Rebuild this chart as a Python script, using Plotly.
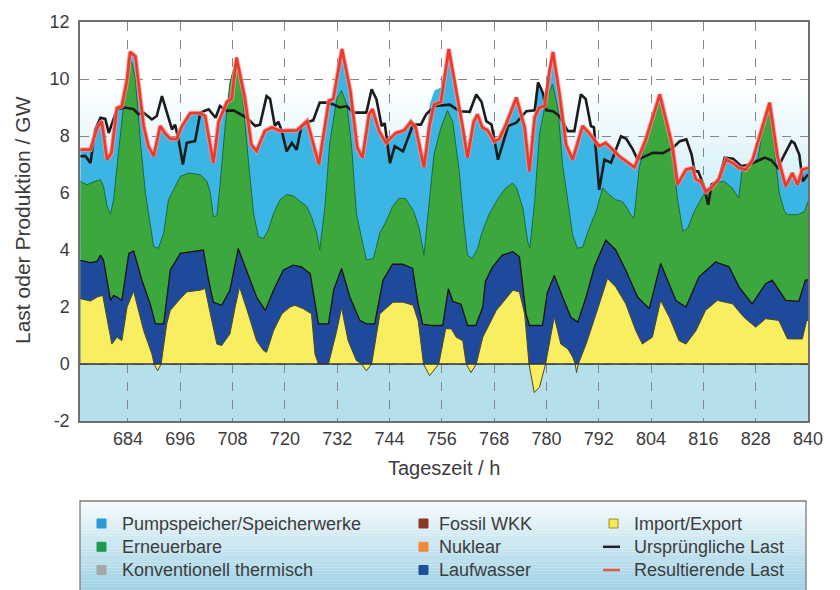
import plotly.graph_objects as go

# ---------------- data (hours, GW) ----------------
# Resultierende Last (red line, also top of Pumpspeicher area)
red_h = [673.1, 675.4, 676.9, 678.0, 679.2, 680.2, 681.5, 682.6, 683.8, 684.5, 685.7, 686.8, 687.6, 688.7,
         689.9, 691.4, 692.5, 693.7, 695.2, 696.4, 698.3, 700.6, 701.7, 703.6, 704.8, 706.7, 707.8, 708.9,
         710.8, 712.3, 713.5, 715.4, 717.0, 718.9, 720.9, 722.8, 725.1, 727.8, 730.1, 731.1, 733.1, 735.0,
         736.6, 737.8, 739.3, 740.1, 741.6, 743.2, 745.4, 747.4, 748.9, 750.0, 751.9, 753.1, 754.2, 755.8,
         757.6, 759.6, 760.7, 761.9, 763.3, 764.2, 765.3, 766.5, 768.0, 769.2, 770.7, 773.1, 775.0, 776.1,
         777.3, 778.4, 779.6, 780.7, 781.5, 783.0, 784.5, 786.0, 788.3, 789.8, 792.1, 793.6, 796.7, 800.2,
         802.8, 806.0, 808.9, 810.1, 812.0, 813.5, 814.3, 815.4, 816.6, 818.1, 819.6, 821.2, 822.7, 824.2,
         825.7, 827.3, 829.6, 831.2, 833.0, 834.9, 836.4, 837.6, 838.7, 840.0]
red_v = [7.52, 7.52, 8.28, 8.52, 7.17, 7.4, 8.98, 9.05, 9.99, 10.95, 10.8, 9.3, 8.35, 7.64,
         7.29, 8.35, 8.1, 7.9, 7.9, 8.35, 8.8, 8.8, 8.7, 7.05, 8.5, 9.2, 9.3, 10.75,
         9.35, 7.7, 7.47, 8.18, 8.3, 8.18, 8.2, 8.2, 8.53, 7.0, 9.24, 9.3, 11.05, 9.6,
         7.59, 7.24, 8.76, 8.94, 8.18, 7.76, 8.1, 8.2, 8.5, 8.3, 6.9, 8.3, 9.1, 9.2,
         11.05, 9.35, 8.4, 7.24, 8.5, 8.76, 8.3, 8.2, 7.8, 7.9, 8.4, 9.35, 8.3, 6.76,
         8.65, 9.0, 9.05, 10.3, 10.95, 9.47, 7.7, 7.17, 8.35, 8.1, 7.64, 7.76, 7.29, 6.9,
         7.88, 9.46, 7.64, 6.3, 6.82, 6.88, 6.47, 6.4, 6.05, 6.23, 6.5, 7.17, 7.06, 6.88,
         6.82, 7.17, 8.35, 9.17, 7.29, 6.23, 6.7, 6.29, 6.82, 6.88]

# Ursprüngliche Last (black line)
black_h = [673.1, 674.2, 675.4, 676.5, 677.7, 678.8, 679.6, 680.7, 681.5, 683.4, 685.3, 686.4, 687.6, 689.5,
           690.6, 691.8, 692.9, 694.1, 694.8, 695.6, 696.6, 697.5, 699.4, 700.6, 702.5, 704.1, 705.1, 706.7,
           708.2, 709.7, 711.3, 713.2, 714.3, 715.8, 716.6, 717.7, 718.5, 719.3, 720.4, 721.6, 722.7, 723.8,
           725.4, 726.5, 728.0, 729.6, 731.1, 732.6, 734.2, 735.7, 737.6, 738.7, 739.9, 741.0, 742.2, 742.9,
           744.1, 745.2, 747.1, 747.9, 749.4, 751.2, 752.4, 754.4, 757.8, 760.1, 762.4, 763.9, 765.1, 766.2,
           767.4, 768.9, 769.7, 771.2, 773.1, 775.4, 777.3, 778.1, 779.2, 780.0, 781.5, 783.0, 784.9, 786.4,
           787.9, 789.0, 790.2, 790.9, 792.1, 793.3, 794.8, 795.9, 797.1, 798.3, 799.8, 800.9, 802.1, 804.4,
           806.7, 809.1, 810.6, 812.1, 813.3, 814.0, 814.8, 816.0, 817.1, 817.9, 819.4, 820.9, 822.8, 824.7,
           826.6, 828.5, 830.1, 831.6, 833.1, 834.6, 836.2, 836.9, 838.0, 838.8, 840.0]
black_v = [7.29, 7.3, 7.05, 8.23, 8.64, 8.6, 8.11, 8.58, 8.94, 9.0, 8.94, 8.76, 8.82, 8.58,
           8.7, 9.4, 8.82, 8.23, 8.4, 7.88, 7.0, 7.76, 7.82, 8.82, 8.94, 8.64, 9.05, 8.88,
           8.9, 8.76, 8.64, 8.35, 8.4, 9.4, 9.3, 8.35, 8.5, 8.17, 7.46, 7.76, 7.52, 8.35,
           8.5, 8.55, 9.17, 9.17, 9.11, 9.0, 9.05, 8.82, 8.82, 8.82, 9.64, 9.29, 8.35, 8.45,
           7.05, 7.64, 7.46, 7.8, 8.4, 8.4, 8.76, 9.05, 9.1, 8.87, 8.85, 9.46, 9.2, 8.52,
           8.4, 7.17, 7.6, 8.35, 8.47, 8.87, 8.9, 9.88, 9.5, 8.9, 8.87, 8.7, 8.17, 8.17,
           9.46, 9.3, 8.35, 8.3, 6.11, 7.17, 7.06, 7.5, 7.99, 7.9, 7.53, 7.17, 7.25, 7.41,
           7.4, 7.6, 7.82, 7.88, 7.35, 6.76, 6.76, 6.3, 5.59, 6.3, 6.41, 7.24, 7.2, 6.94,
           7.0, 7.12, 7.24, 7.15, 6.88, 7.35, 7.82, 7.75, 7.35, 6.41, 6.65]

# Upper edge of Erneuerbare (stacked)
ern_h = [673.1, 674.6, 676.5, 677.7, 678.4, 679.2, 680.0, 680.7, 681.9, 683.0, 684.2, 684.9, 685.7, 686.8,
         688.0, 689.1, 689.9, 691.0, 692.2, 693.3, 694.5, 696.0, 697.9, 700.6, 702.1, 702.9, 703.6, 704.4,
         705.1, 706.3, 707.4, 708.6, 709.3, 710.5, 711.6, 712.8, 713.9, 715.1, 716.2, 717.4, 718.9, 720.4,
         721.9, 723.5, 725.0, 726.1, 727.3, 728.0, 729.2, 730.3, 731.9, 733.0, 734.2, 735.3, 736.4, 737.6,
         738.7, 740.3, 741.8, 743.2, 744.7, 746.2, 747.7, 749.6, 750.8, 751.9, 753.1, 754.2, 755.8, 757.3,
         758.5, 760.0, 761.1, 761.9, 763.0, 764.2, 765.3, 766.8, 769.2, 770.7, 772.2, 773.1, 774.6, 775.7,
         776.2, 777.3, 778.4, 779.9, 781.4, 782.6, 783.7, 784.9, 786.0, 787.1, 788.3, 789.8, 791.4, 792.9,
         794.4, 795.9, 797.4, 798.5, 799.3, 800.1, 801.3, 802.8, 804.3, 806.0, 807.3, 808.7, 810.1, 811.3,
         812.4, 813.9, 815.8, 816.9, 818.8, 820.7, 822.6, 824.1, 824.9, 826.6, 828.5, 829.6, 831.0, 832.2,
         833.4, 834.6, 835.4, 837.7, 839.2, 840.0]
ern_v = [6.41, 6.29, 6.41, 6.47, 6.23, 5.53, 5.25, 5.76, 7.52, 9.05, 10.46, 10.6, 10.0, 7.88,
         6.0, 4.82, 4.12, 4.06, 4.59, 5.76, 6.11, 6.58, 6.7, 6.64, 6.41, 6.0, 5.17, 5.2,
         6.23, 8.35, 9.88, 10.55, 10.5, 9.05, 7.17, 5.29, 4.47, 4.4, 4.7, 5.29, 5.76, 5.94,
         5.9, 5.7, 5.53, 5.17, 4.59, 4.0, 5.53, 7.76, 9.29, 9.6, 9.1, 7.64, 5.29, 4.4,
         3.65, 3.7, 4.6, 5.0, 5.53, 5.82, 5.8, 5.35, 4.76, 3.82, 5.59, 7.35, 8.29, 8.9,
         8.5, 6.76, 4.88, 3.82, 3.7, 4.06, 4.65, 5.24, 5.88, 6.18, 6.35, 6.2, 5.47, 4.29,
         4.06, 5.7, 8.06, 9.24, 9.82, 9.0, 7.0, 5.7, 4.53, 4.06, 4.1, 4.76, 5.35, 6.18,
         5.94, 5.76, 5.7, 5.47, 5.24, 5.12, 6.9, 7.8, 8.5, 9.4, 8.7, 7.5, 5.76, 4.65,
         4.76, 5.35, 5.88, 6.1, 6.35, 6.41, 6.18, 5.82, 6.8, 6.95, 7.2, 8.2, 9.0, 7.6,
         6.0, 5.35, 5.24, 5.24, 5.35, 5.7]

# Upper edge of Laufwasser (stacked)
lauf_h = [673.1, 675.4, 676.9, 677.7, 678.4, 680.0, 680.7, 681.5, 682.6, 684.2, 685.3, 687.2, 689.1, 690.3,
          692.2, 693.7, 696.0, 698.3, 701.3, 702.5, 703.6, 705.5, 707.4, 709.3, 711.2, 713.5, 715.5, 717.4,
          719.6, 721.9, 723.8, 725.8, 727.7, 730.0, 731.2, 733.0, 734.9, 737.2, 738.7, 740.6, 742.5, 744.7,
          747.0, 749.3, 750.5, 751.6, 753.9, 756.2, 757.5, 758.5, 760.4, 761.9, 763.8, 765.4, 766.0, 767.6,
          769.9, 772.3, 773.8, 775.3, 776.1, 779.1, 780.2, 781.8, 783.7, 785.6, 787.2, 789.1, 791.0, 793.6,
          795.9, 798.2, 800.9, 803.6, 806.2, 807.8, 809.7, 812.0, 815.0, 818.8, 821.9, 824.2, 827.2, 830.3,
          831.8, 834.9, 837.9, 839.4, 840.0]
lauf_v = [3.64, 3.56, 3.6, 3.82, 3.64, 2.23, 2.4, 2.35, 2.23, 3.88, 3.97, 2.94, 2.11, 1.41,
          1.41, 3.29, 3.88, 3.94, 4.0, 2.94, 2.17, 2.06, 2.59, 4.05, 3.29, 2.35, 1.88, 2.59,
          3.29, 3.47, 3.41, 3.17, 1.41, 1.41, 2.6, 3.35, 2.35, 1.53, 1.41, 1.41, 2.94, 3.5,
          3.5, 3.35, 2.17, 1.4, 1.35, 1.35, 2.64, 2.2, 2.1, 1.35, 1.35, 2.0, 2.9, 3.4,
          3.82, 3.94, 3.76, 1.76, 1.35, 1.35, 2.5, 3.11, 2.35, 1.64, 1.47, 2.35, 3.41, 4.35,
          4.0, 3.29, 2.35, 1.94, 3.53, 2.94, 2.23, 2.0, 3.06, 3.58, 3.41, 2.7, 2.11, 2.82,
          2.94, 2.23, 2.2, 2.94, 2.95]

# Import/Export (bottom layer, negative = export)
imp_h = [673.1, 675.4, 677.0, 678.2, 680.3, 681.5, 682.6, 683.8, 685.3, 687.6, 689.5, 690.0, 690.8, 691.6,
         692.9, 693.7, 696.0, 697.5, 700.6, 701.7, 702.9, 704.4, 705.5, 707.4, 708.6, 709.6, 711.6, 713.5,
         715.1, 715.8, 717.4, 719.3, 721.2, 722.3, 724.2, 726.1, 726.9, 727.7, 730.0, 731.9, 733.0, 734.5,
         736.4, 737.6, 738.7, 739.9, 741.8, 744.8, 747.1, 749.4, 750.6, 751.8, 753.2, 755.3, 756.9, 758.2,
         759.3, 760.8, 761.6, 762.7, 763.9, 765.4, 768.5, 772.3, 773.8, 775.0, 776.0, 777.2, 778.4, 779.8,
         781.8, 783.3, 784.9, 786.0, 786.6, 786.9, 787.3, 789.1, 791.4, 794.0, 795.9, 798.2, 800.5, 802.0,
         804.3, 806.2, 808.2, 810.4, 812.0, 814.3, 816.5, 819.2, 822.7, 825.3, 828.0, 830.3, 833.3, 835.3,
         838.7, 839.7, 840.0]
imp_v = [2.29, 2.21, 2.35, 2.41, 0.7, 0.94, 0.82, 2.0, 2.55, 1.17, 0.35, 0.0, -0.24, 0.0,
         1.41, 1.88, 2.29, 2.53, 2.59, 2.65, 1.76, 0.7, 0.65, 1.06, 2.0, 2.7, 1.76, 0.82,
         0.47, 0.41, 1.17, 1.76, 2.0, 2.06, 1.94, 1.76, 0.35, 0.0, 0.0, 1.17, 1.97, 0.82,
         0.12, 0.0, -0.24, 0.0, 1.76, 2.17, 2.17, 2.06, 1.5, 0.0, -0.41, 0.0, 1.24, 1.23,
         0.94, 0.82, 0.0, -0.3, 0.0, 0.94, 1.88, 2.59, 2.53, 1.76, 0.0, -1.0, -0.82, 0.0,
         1.65, 0.7, 0.53, 0.25, 0.0, -0.3, 0.0, 0.7, 1.76, 3.0, 2.7, 2.11, 1.17, 0.7,
         0.94, 2.23, 1.64, 0.82, 0.7, 1.17, 1.88, 2.23, 2.11, 1.64, 1.29, 1.59, 1.53, 0.88,
         0.88, 1.53, 1.53]

# Pumpspeicher peaks that rise above the resulting-load line
pump_bump1_h = [751.9, 753.2, 754.3, 755.8, 756.9, 757.6, 758.5]
pump_bump1_v = [6.9, 9.1, 9.6, 9.7, 10.6, 11.0, 10.0]
pump_bump2_h = [777.0, 777.8, 778.5, 779.6, 780.5]
pump_bump2_v = [8.4, 9.9, 9.6, 9.5, 10.1]

x_ticks = [684, 696, 708, 720, 732, 744, 756, 768, 780, 792, 804, 816, 828, 840]
y_ticks = [-2, 0, 2, 4, 6, 8, 10, 12]

legend_items = [
    # (label, kind, colour, column, row)
    ("Pumpspeicher/Speicherwerke", "box", "#2a9ad6", 0, 0),
    ("Erneuerbare", "box", "#1f9a4c", 0, 1),
    ("Konventionell thermisch", "box", "#a6a6a6", 0, 2),
    ("Fossil WKK", "box", "#8a3b22", 1, 0),
    ("Nuklear", "box", "#f28a3c", 1, 1),
    ("Laufwasser", "box", "#1d4f98", 1, 2),
    ("Import/Export", "box", "#f6e94e", 2, 0),
    ("Ursprüngliche Last", "line", "#222222", 2, 1),
    ("Resultierende Last", "line", "#e8564a", 2, 2),
]

# ---------------- styling ----------------
C_PUMP = "#3bb5e3"
C_ERN = "#3ca73d"
C_LAUF = "#1f4a9c"
C_IMP = "#f9ed60"
FONT = "Liberation Sans, Arial, sans-serif"
TXT = "#3c3c3c"

W, H = 840, 590
PL, PR, PT, PB = 80, 808, 22, 421  # plot area in pixels


def px(x):
    return (x - PL) / (PR - PL)


def py(y):
    return (PB - y) / (PB - PT)


fig = go.Figure()

# stacked areas, drawn top layer first, each filled down to zero
fig.add_trace(go.Scatter(x=red_h, y=red_v, mode="lines", fill="tozeroy",
                         fillcolor=C_PUMP, line=dict(width=0), hoverinfo="skip", showlegend=False))
for bh, bv in ((pump_bump1_h, pump_bump1_v), (pump_bump2_h, pump_bump2_v)):
    fig.add_trace(go.Scatter(x=bh, y=bv, mode="lines", fill="tozeroy",
                             fillcolor=C_PUMP, line=dict(width=0, color=C_PUMP),
                             hoverinfo="skip", showlegend=False))
fig.add_trace(go.Scatter(x=ern_h, y=ern_v, mode="lines", fill="tozeroy",
                         fillcolor=C_ERN, line=dict(width=1, color="#1d6b3c"),
                         hoverinfo="skip", showlegend=False))
fig.add_trace(go.Scatter(x=lauf_h, y=lauf_v, mode="lines", fill="tozeroy",
                         fillcolor=C_LAUF, line=dict(width=1.3, color="#141414"),
                         hoverinfo="skip", showlegend=False))
fig.add_trace(go.Scatter(x=imp_h, y=imp_v, mode="lines", fill="tozeroy",
                         fillcolor=C_IMP, line=dict(width=1, color="#4a4a2a"),
                         hoverinfo="skip", showlegend=False))
# load lines
fig.add_trace(go.Scatter(x=black_h, y=black_v, mode="lines",
                         line=dict(width=2.6, color="#1b1b1b"), hoverinfo="skip", showlegend=False))
fig.add_trace(go.Scatter(x=red_h, y=red_v, mode="lines",
                         line=dict(width=4.8, color="rgba(245,150,150,0.75)"), hoverinfo="skip", showlegend=False))
fig.add_trace(go.Scatter(x=red_h, y=red_v, mode="lines",
                         line=dict(width=2.7, color="#ec3a2a"), hoverinfo="skip", showlegend=False))

shapes = []


def mix(c1, c2, t):
    return "rgb(%d,%d,%d)" % tuple(round(a + (b - a) * t) for a, b in zip(c1, c2))


# plot background: pale cyan gradient fading to white near the top
top_c = (255, 255, 255)
low_c = (196, 233, 245)
n = 40
y0, y1 = 5.0, 9.8
for i in range(n):
    a = y0 + (y1 - y0) * i / n
    b = y0 + (y1 - y0) * (i + 1) / n
    t = (i + 0.5) / n
    shapes.append(dict(type="rect", xref="x", yref="y", x0=673, x1=840, y0=a, y1=b,
                       fillcolor=mix(low_c, top_c, t), line=dict(width=0), layer="below"))
shapes.append(dict(type="rect", xref="x", yref="y", x0=673, x1=840, y0=0, y1=y0,
                   fillcolor=mix(low_c, top_c, 0), line=dict(width=0), layer="below"))
# below-zero band
shapes.append(dict(type="rect", xref="x", yref="y", x0=673, x1=840, y0=-2, y1=0,
                   fillcolor="#b5dfea", line=dict(width=0), layer="below"))
# zero line
shapes.append(dict(type="line", xref="x", yref="y", x0=673, x1=840, y0=0, y1=0,
                   line=dict(color="#333333", width=1.6), layer="above"))

# legend box with gradient
LB_L, LB_R, LB_T, LB_B = 80, 806, 501, 596
nb = 30
for i in range(nb):
    a = LB_T + (LB_B - LB_T) * i / nb
    b = LB_T + (LB_B - LB_T) * (i + 1) / nb
    t = (i + 0.5) / nb
    shapes.append(dict(type="rect", xref="paper", yref="paper", x0=px(LB_L), x1=px(LB_R),
                       y0=py(b), y1=py(a), fillcolor=mix((246, 251, 253), (150, 205, 226), t),
                       line=dict(width=0), layer="above"))
shapes.append(dict(type="rect", xref="paper", yref="paper", x0=px(LB_L), x1=px(LB_R),
                   y0=py(LB_B), y1=py(LB_T), line=dict(color="#7d7d7d", width=1.3),
                   fillcolor="rgba(0,0,0,0)", layer="above"))

annotations = []
col_sq = [97, 419, 609]
col_tx = [120, 437, 632]
row_y = [523.5, 546.8, 570]
for label, kind, col, c, r in legend_items:
    yc = row_y[r]
    if kind == "box":
        border = "#9a9030" if label == "Import/Export" else col
        shapes.append(dict(type="rect", xref="paper", yref="paper",
                           x0=px(col_sq[c]), x1=px(col_sq[c] + 9), y0=py(yc + 4.5), y1=py(yc - 4.5),
                           fillcolor=col, line=dict(color=border, width=1), layer="above"))
    else:
        shapes.append(dict(type="line", xref="paper", yref="paper",
                           x0=px(col_sq[c] - 6), x1=px(col_sq[c] + 11), y0=py(yc), y1=py(yc),
                           line=dict(color=col, width=2.5), layer="above"))
    annotations.append(dict(text=label, xref="paper", yref="paper", x=px(col_tx[c]), y=py(yc),
                            xanchor="left", yanchor="middle", showarrow=False,
                            font=dict(family=FONT, size=18, color=TXT)))

# axis titles
annotations.append(dict(text="Last oder Produktion / GW", xref="paper", yref="paper",
                        x=px(22), y=py(220), textangle=-90, showarrow=False,
                        xanchor="center", yanchor="middle",
                        font=dict(family=FONT, size=21, color=TXT)))
annotations.append(dict(text="Tageszeit / h", xref="paper", yref="paper",
                        x=px(444), y=py(468), showarrow=False,
                        xanchor="center", yanchor="middle",
                        font=dict(family=FONT, size=20, color=TXT)))

fig.update_layout(
    width=W, height=H,
    margin=dict(l=PL, r=W - PR, t=PT, b=H - PB, pad=0),
    paper_bgcolor="white", plot_bgcolor="white",
    shapes=shapes, annotations=annotations, showlegend=False,
    font=dict(family=FONT, color=TXT),
)
fig.update_xaxes(range=[673, 840], tickvals=x_ticks, ticktext=[str(v) for v in x_ticks],
                 showgrid=True, gridcolor="#858585", griddash="dash", gridwidth=1,
                 showline=True, mirror=True, linecolor="#6f6f6f", linewidth=1.5,
                 ticks="", ticklabelstandoff=1, zeroline=False,
                 tickfont=dict(family=FONT, size=18, color=TXT))
fig.update_yaxes(range=[-2, 12], tickvals=y_ticks, ticktext=[str(v) for v in y_ticks],
                 showgrid=True, gridcolor="#858585", griddash="dash", gridwidth=1,
                 showline=True, mirror=True, linecolor="#6f6f6f", linewidth=1.5,
                 ticks="", ticklabelstandoff=5, zeroline=False,
                 tickfont=dict(family=FONT, size=18, color=TXT))

fig.write_html("out.html", config={"displayModeBar": False},
               post_script="document.body.style.margin='0px';")
